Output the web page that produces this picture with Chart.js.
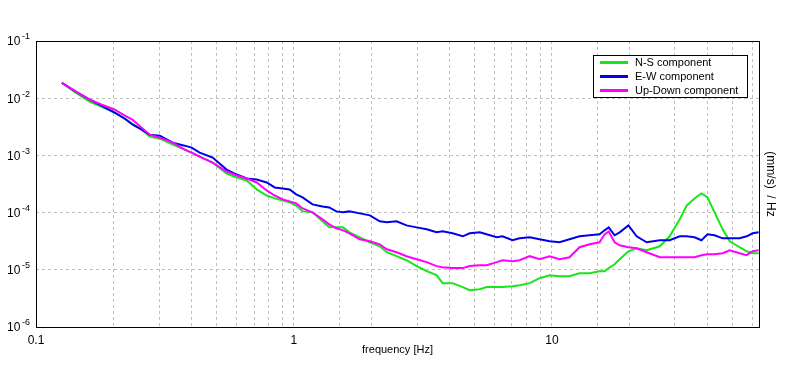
<!DOCTYPE html>
<html>
<head>
<meta charset="utf-8">
<script src="https://cdn.jsdelivr.net/npm/chart.js@4.4.1/dist/chart.umd.min.js"></script>
<style>
  html, body { margin: 0; padding: 0; background: #ffffff; }
  #wrap { position: relative; width: 796px; height: 370px; }
  canvas { display: block; }
</style>
</head>
<body>
<div id="wrap"><canvas id="c" width="796" height="370"></canvas></div>
<script>
// ---- data ----
const freq = [0.126,0.141,0.162,0.180,0.202,0.221,0.237,0.257,0.276,0.302,
  0.339,0.377,0.401,0.431,0.484,0.548,0.600,0.656,0.717,0.784,
  0.842,0.904,0.962,1.02,1.08,1.18,1.29,1.37,1.46,1.55,
  1.64,1.80,1.97,2.15,2.29,2.50,2.73,2.99,3.27,3.57,
  3.77,4.12,4.51,4.80,5.25,5.58,6.11,6.43,7.04,7.49,
  8.20,8.96,9.80,10.7,11.7,12.8,14.0,15.3,16.0,16.6,
  17.5,18.3,19.8,21.3,23.3,26.2,28.6,31.3,33.3,35.7,
  38.0,40.1,42.7,45.9,48.9,53.4,56.9,60.0,63.3];

const nsComponent = [1.86e-2,1.29e-2,8.66e-3,7.08e-3,5.57e-3,4.38e-3,3.58e-3,2.82e-3,2.13e-3,1.96e-3,
  1.54e-3,1.26e-3,1.12e-3,9.53e-4,7.49e-4,4.82e-4,4.10e-4,3.64e-4,2.54e-4,1.99e-4,
  1.77e-4,1.63e-4,1.51e-4,1.33e-4,1.05e-4,1.01e-4,7.03e-5,5.52e-5,5.52e-5,5.52e-5,
  4.52e-5,3.70e-5,3.03e-5,2.58e-5,2.03e-5,1.73e-5,1.47e-5,1.16e-5,9.45e-6,8.05e-6,
  5.84e-6,5.84e-6,4.98e-6,4.41e-6,4.59e-6,4.98e-6,4.98e-6,4.98e-6,5.18e-6,5.39e-6,
  5.84e-6,7.14e-6,8.05e-6,7.74e-6,7.74e-6,8.73e-6,8.73e-6,9.45e-6,9.45e-6,1.07e-5,
  1.25e-5,1.53e-5,2.11e-5,2.38e-5,2.19e-5,2.58e-5,3.85e-5,7.61e-5,1.33e-4,1.77e-4,
  2.16e-4,1.84e-4,1.01e-4,5.10e-5,3.15e-5,2.48e-5,2.11e-5,1.95e-5,1.95e-5];

const ewComponent = [1.86e-2,1.35e-2,9.38e-3,7.37e-3,5.57e-3,4.38e-3,3.44e-3,2.82e-3,2.30e-3,2.21e-3,
  1.67e-3,1.48e-3,1.37e-3,1.12e-3,9.16e-4,5.66e-4,4.63e-4,3.94e-4,3.79e-4,3.36e-4,
  2.75e-4,2.64e-4,2.54e-4,2.08e-4,1.84e-4,1.39e-4,1.28e-4,1.23e-4,1.05e-4,1.01e-4,
  1.05e-4,9.69e-5,8.94e-5,7.03e-5,6.75e-5,7.03e-5,5.98e-5,5.52e-5,5.10e-5,4.52e-5,
  4.70e-5,4.34e-5,3.85e-5,4.34e-5,4.52e-5,4.17e-5,3.70e-5,3.85e-5,3.28e-5,3.55e-5,
  3.70e-5,3.41e-5,3.15e-5,3.03e-5,3.41e-5,3.85e-5,4.01e-5,4.17e-5,4.90e-5,5.52e-5,
  4.01e-5,4.52e-5,5.98e-5,3.85e-5,3.03e-5,3.28e-5,3.28e-5,3.85e-5,3.85e-5,3.70e-5,
  3.28e-5,4.17e-5,4.01e-5,3.55e-5,3.55e-5,3.55e-5,3.85e-5,4.34e-5,4.52e-5];

const udComponent = [1.86e-2,1.35e-2,9.38e-3,7.67e-3,6.28e-3,4.94e-3,4.20e-3,3.05e-3,2.30e-3,2.04e-3,
  1.67e-3,1.26e-3,1.12e-3,9.53e-4,7.49e-4,5.22e-4,4.45e-4,3.94e-4,3.36e-4,2.44e-4,
  1.99e-4,1.70e-4,1.57e-4,1.45e-4,1.18e-4,1.01e-4,7.61e-5,6.23e-5,5.31e-5,4.90e-5,
  4.34e-5,3.41e-5,3.15e-5,2.79e-5,2.29e-5,2.03e-5,1.73e-5,1.53e-5,1.36e-5,1.16e-5,
  1.11e-5,1.07e-5,1.07e-5,1.16e-5,1.20e-5,1.20e-5,1.36e-5,1.47e-5,1.41e-5,1.47e-5,
  1.73e-5,1.53e-5,1.73e-5,1.53e-5,1.66e-5,2.48e-5,2.79e-5,3.03e-5,4.17e-5,4.70e-5,
  3.03e-5,2.68e-5,2.48e-5,2.38e-5,2.03e-5,1.66e-5,1.66e-5,1.66e-5,1.66e-5,1.66e-5,
  1.80e-5,1.87e-5,1.87e-5,1.95e-5,2.19e-5,1.95e-5,1.80e-5,2.11e-5,2.19e-5];

const seriesLabels = ['N-S component', 'E-W component', 'Up-Down component'];
const xTickLabels = { '-1': '0.1', '0': '1', '1': '10' };
const xTitle = 'frequency [Hz]';
const yTitle = '(mm/s)  / Hz';

// ---- chart ----
const FONT = "'Liberation Sans', Arial, sans-serif";
const toPts = arr => freq.map((f, i) => ({ x: f, y: arr[i] }));
const isDecade = v => Math.abs(Math.log10(v) - Math.round(Math.log10(v))) < 1e-6;

const frameAndLabels = {
  id: 'frameAndLabels',
  afterDraw(chart) {
    const ctx = chart.ctx;
    const a = chart.chartArea;
    ctx.save();
    // frame
    ctx.strokeStyle = '#000';
    ctx.lineWidth = 1;
    ctx.strokeRect(Math.round(a.left) + 0.5, Math.round(a.top) + 0.5,
                   Math.round(a.right - a.left), Math.round(a.bottom - a.top));
    // y tick labels with superscript exponent
    const ys = chart.scales.y;
    ctx.fillStyle = '#000';
    ctx.textBaseline = 'middle';
    ctx.textAlign = 'left';
    ys.ticks.forEach(t => {
      const py = ys.getPixelForValue(t.value);
      const ex = Math.round(Math.log10(t.value));
      ctx.font = '12px ' + FONT;
      ctx.fillText('10', 7, py + 1);
      ctx.font = '9px ' + FONT;
      ctx.fillText(String(ex), 22, py - 4);
    });
    // legend
    const lx = 593, ly = 55, lw = 154, lh = 42;
    ctx.fillStyle = '#fff';
    ctx.fillRect(lx, ly, lw, lh);
    ctx.strokeStyle = '#000';
    ctx.lineWidth = 1;
    ctx.strokeRect(lx + 0.5, ly + 0.5, lw, lh);
    ctx.font = '11px ' + FONT;
    chart.data.datasets.forEach((ds, i) => {
      const yy = ly + 7.5 + i * 14;
      ctx.strokeStyle = ds.borderColor;
      ctx.lineWidth = 3;
      ctx.beginPath();
      ctx.moveTo(lx + 7, yy);
      ctx.lineTo(lx + 35, yy);
      ctx.stroke();
      ctx.fillStyle = '#000';
      ctx.fillText(ds.label, lx + 42, yy);
    });
    ctx.restore();
  }
};

const gridCommon = { color: '#c0c0c0', lineWidth: 1, drawTicks: false };

new Chart(document.getElementById('c'), {
  type: 'line',
  data: {
    datasets: [
      { label: seriesLabels[0], data: toPts(nsComponent), borderColor: '#19e619', order: 3 },
      { label: seriesLabels[1], data: toPts(ewComponent), borderColor: '#0000ee', order: 2 },
      { label: seriesLabels[2], data: toPts(udComponent), borderColor: '#ff00ff', order: 1 }
    ]
  },
  options: {
    responsive: false,
    animation: false,
    devicePixelRatio: 1,
    layout: { padding: { top: 41, left: 0, right: 0, bottom: 0 } },
    elements: {
      point: { radius: 0, hoverRadius: 0 },
      line: { borderWidth: 2, tension: 0, fill: false }
    },
    plugins: { legend: { display: false }, tooltip: { enabled: false } },
    scales: {
      x: {
        type: 'logarithmic',
        min: 0.1,
        max: 63.5,
        grid: Object.assign({}, gridCommon, { tickBorderDash: [3, 3] }),
        border: { display: false, dash: [3, 3] },
        ticks: {
          autoSkip: false,
          maxRotation: 0,
          padding: 6,
          color: '#000',
          font: { family: FONT, size: 12 },
          callback: v => {
            if (!isDecade(v)) return '';
            const k = String(Math.round(Math.log10(v)));
            return xTickLabels[k] !== undefined ? xTickLabels[k] : '';
          }
        },
        title: {
          display: true, text: xTitle, color: '#000',
          font: { family: FONT, size: 11 },
          padding: { top: 0, bottom: 13 }
        },
        afterFit: s => { s.height = 43; }
      },
      y: {
        type: 'logarithmic',
        position: 'left',
        min: 1e-6,
        max: 1e-1,
        afterBuildTicks: s => { s.ticks = s.ticks.filter(t => isDecade(t.value)); },
        grid: gridCommon,
        border: { display: false, dash: [3, 3] },
        ticks: { display: false },
        afterFit: s => { s.width = 36; }
      },
      yr: {
        type: 'linear',
        position: 'right',
        min: 0, max: 1,
        grid: { display: false, drawTicks: false },
        border: { display: false },
        ticks: { display: false },
        title: {
          display: true, text: yTitle, color: '#000',
          font: { family: FONT, size: 12 },
          padding: { top: 18, bottom: 0 }
        },
        afterFit: s => { s.width = 37; }
      }
    }
  },
  plugins: [frameAndLabels]
});

// dashed grid lines
Chart.defaults.scales = Chart.defaults.scales || {};
</script>
</body>
</html>
